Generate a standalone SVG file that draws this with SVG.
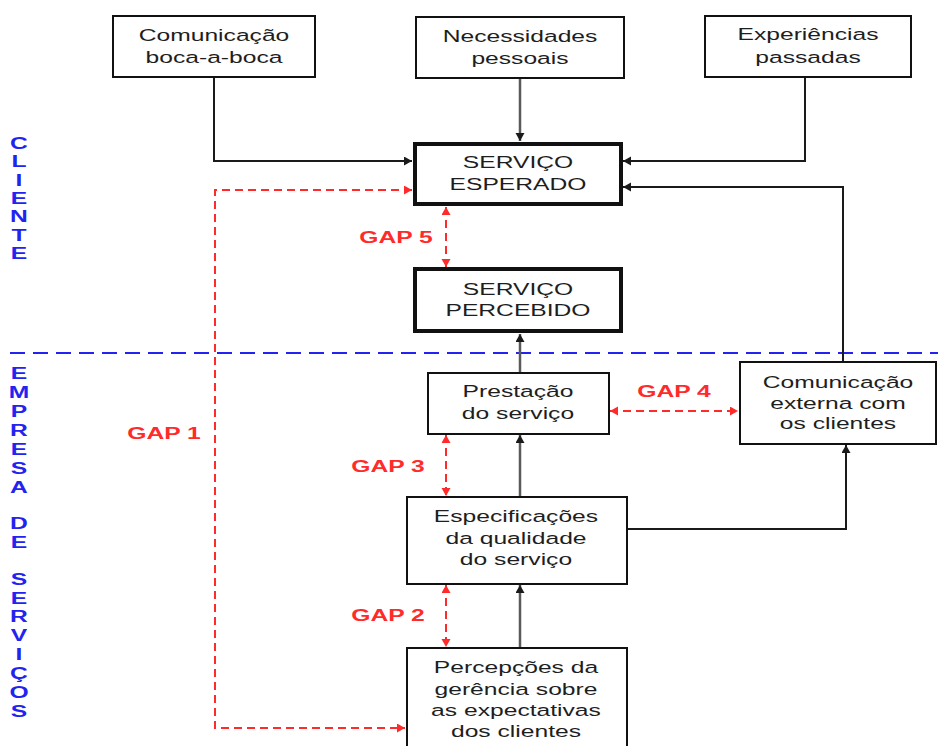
<svg xmlns="http://www.w3.org/2000/svg" width="938" height="746" viewBox="0 0 938 746">
<style>
.box{fill:#fff;stroke:#111;stroke-width:2}
.thick{fill:#fff;stroke:#111;stroke-width:4}
.t{font-family:"Liberation Sans",Arial,sans-serif;font-size:17px;fill:#1e1e1e;text-anchor:middle}
.gap{font-family:"Liberation Sans",Arial,sans-serif;font-size:17px;font-weight:bold;fill:#ff2a2a;text-anchor:middle}
.side{font-family:"Liberation Sans",Arial,sans-serif;font-size:17px;font-weight:bold;fill:#2323f0;text-anchor:middle}
.c{fill:none;stroke:#1a1a1a;stroke-width:2}
.cg{fill:none;stroke:#5a5a5a;stroke-width:2.5}
.r{fill:none;stroke:#ff2a2a;stroke-width:2;stroke-dasharray:8 5}
.blue{fill:none;stroke:#2323f0;stroke-width:2;stroke-dasharray:15 8}
</style>
<defs>
<marker id="ab" markerUnits="userSpaceOnUse" markerWidth="10" markerHeight="10" refX="8" refY="4.5" orient="auto"><path d="M0,0 L8,4.5 L0,9 z" fill="#1a1a1a"/></marker>
<marker id="ar" markerUnits="userSpaceOnUse" markerWidth="10" markerHeight="10" refX="8" refY="4.5" orient="auto-start-reverse"><path d="M0,0 L8,4.5 L0,9 z" fill="#ff2a2a"/></marker>
</defs>

<g id="side-labels">
<text class="side" transform="translate(19,149) scale(1.45,1)">C</text>
<text class="side" transform="translate(19,167) scale(1.45,1)">L</text>
<text class="side" transform="translate(19,186) scale(1.45,1)">I</text>
<text class="side" transform="translate(19,204) scale(1.45,1)">E</text>
<text class="side" transform="translate(19,222) scale(1.45,1)">N</text>
<text class="side" transform="translate(19,241) scale(1.45,1)">T</text>
<text class="side" transform="translate(19,259) scale(1.45,1)">E</text>
<text class="side" transform="translate(19,379) scale(1.45,1)">E</text>
<text class="side" transform="translate(19,398) scale(1.45,1)">M</text>
<text class="side" transform="translate(19,417) scale(1.45,1)">P</text>
<text class="side" transform="translate(19,436) scale(1.45,1)">R</text>
<text class="side" transform="translate(19,455) scale(1.45,1)">E</text>
<text class="side" transform="translate(19,474) scale(1.45,1)">S</text>
<text class="side" transform="translate(19,493) scale(1.45,1)">A</text>
<text class="side" transform="translate(19,529) scale(1.45,1)">D</text>
<text class="side" transform="translate(19,548) scale(1.45,1)">E</text>
<text class="side" transform="translate(19,585) scale(1.45,1)">S</text>
<text class="side" transform="translate(19,604) scale(1.45,1)">E</text>
<text class="side" transform="translate(19,622) scale(1.45,1)">R</text>
<text class="side" transform="translate(19,641) scale(1.45,1)">V</text>
<text class="side" transform="translate(19,660) scale(1.45,1)">I</text>
<text class="side" transform="translate(19,679) scale(1.45,1)">Ç</text>
<text class="side" transform="translate(19,698) scale(1.45,1)">O</text>
<text class="side" transform="translate(19,717) scale(1.45,1)">S</text>
</g>

<line class="blue" x1="10" y1="353" x2="938" y2="353"/>

<g id="connectors">
<path class="c" d="M214,78 V161 H412" marker-end="url(#ab)"/>
<path class="cg" d="M520,78 V141" marker-end="url(#ab)"/>
<path class="c" d="M805,78 V161 H623" marker-end="url(#ab)"/>
<path class="c" d="M843,361 V187 H623" marker-end="url(#ab)"/>
<path class="cg" d="M520,373 V334" marker-end="url(#ab)"/>
<path class="cg" d="M520,497 V435" marker-end="url(#ab)"/>
<path class="cg" d="M520,648 V585" marker-end="url(#ab)"/>
<path class="c" d="M627,529 H846 V445" marker-end="url(#ab)"/>
<path class="r" d="M412,190 H215 V728 H405" marker-start="url(#ar)" marker-end="url(#ar)"/>
<path class="r" d="M446,207 V267" marker-start="url(#ar)" marker-end="url(#ar)"/>
<path class="r" d="M446,435 V496" marker-start="url(#ar)" marker-end="url(#ar)"/>
<path class="r" d="M446,585 V647" marker-start="url(#ar)" marker-end="url(#ar)"/>
<path class="r" d="M610,411 H738" marker-start="url(#ar)" marker-end="url(#ar)"/>
</g>

<g id="gap-labels">
<text class="gap" transform="translate(396,243) scale(1.45,1)">GAP 5</text>
<text class="gap" transform="translate(164,439) scale(1.45,1)">GAP 1</text>
<text class="gap" transform="translate(388,472) scale(1.45,1)">GAP 3</text>
<text class="gap" transform="translate(674,397) scale(1.45,1)">GAP 4</text>
<text class="gap" transform="translate(388,621) scale(1.45,1)">GAP 2</text>
</g>

<g id="boca-a-boca">
<rect class="box" x="113" y="16" width="202" height="61"/>
<text class="t" transform="translate(214,41) scale(1.45,1)">Comunicação</text>
<text class="t" transform="translate(214,63) scale(1.45,1)">boca-a-boca</text>
</g>
<g id="necessidades">
<rect class="box" x="416" y="17" width="208" height="61"/>
<text class="t" transform="translate(520,42) scale(1.45,1)">Necessidades</text>
<text class="t" transform="translate(520,64) scale(1.45,1)">pessoais</text>
</g>
<g id="experiencias">
<rect class="box" x="705" y="16" width="206" height="61"/>
<text class="t" transform="translate(808,40) scale(1.45,1)">Experiências</text>
<text class="t" transform="translate(808,63) scale(1.45,1)">passadas</text>
</g>
<g id="esperado">
<rect class="thick" x="415" y="144" width="206" height="60"/>
<text class="t" transform="translate(518,168) scale(1.45,1)">SERVIÇO</text>
<text class="t" transform="translate(518,190) scale(1.45,1)">ESPERADO</text>
</g>
<g id="percebido">
<rect class="thick" x="415" y="269" width="206" height="62"/>
<text class="t" transform="translate(518,295) scale(1.45,1)">SERVIÇO</text>
<text class="t" transform="translate(518,316) scale(1.45,1)">PERCEBIDO</text>
</g>
<g id="prestacao">
<rect class="box" x="428" y="373" width="181" height="61"/>
<text class="t" transform="translate(518,397) scale(1.45,1)">Prestação</text>
<text class="t" transform="translate(518,419) scale(1.45,1)">do serviço</text>
</g>
<g id="comunicacao-externa">
<rect class="box" x="740" y="362" width="196" height="82"/>
<text class="t" transform="translate(838,388) scale(1.45,1)">Comunicação</text>
<text class="t" transform="translate(838,409) scale(1.45,1)">externa com</text>
<text class="t" transform="translate(838,429) scale(1.45,1)">os clientes</text>
</g>
<g id="especificacoes">
<rect class="box" x="407" y="497" width="220" height="87"/>
<text class="t" transform="translate(516,522) scale(1.45,1)">Especificações</text>
<text class="t" transform="translate(516,544) scale(1.45,1)">da qualidade</text>
<text class="t" transform="translate(516,565) scale(1.45,1)">do serviço</text>
</g>
<g id="percepcoes">
<rect class="box" x="407" y="648" width="220" height="110"/>
<text class="t" transform="translate(516,673) scale(1.45,1)">Percepções da</text>
<text class="t" transform="translate(516,695) scale(1.45,1)">gerência sobre</text>
<text class="t" transform="translate(516,716) scale(1.45,1)">as expectativas</text>
<text class="t" transform="translate(516,737) scale(1.45,1)">dos clientes</text>
</g>
</svg>
